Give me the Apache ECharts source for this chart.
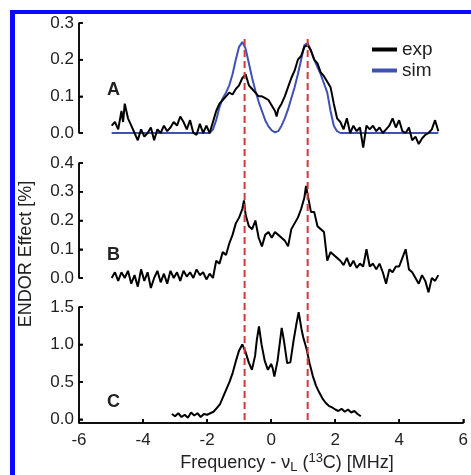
<!DOCTYPE html>
<html>
<head>
<meta charset="utf-8">
<script src="https://cdn.jsdelivr.net/npm/echarts@6/dist/echarts.min.js"></script>
<style>
html, body { margin: 0; padding: 0; background: #fff; }
#chart { width: 471px; height: 475px; }
</style>
</head>
<body>
<div id="chart"></div>
<script>
// panel A: measured spectrum and simulation, [frequency MHz, effect %]
const expA = [
  [-5.0,0.02],[-4.9,0.03],[-4.8,0.01],[-4.7,0.06],[-4.65,0.03],[-4.6,0.08],[-4.5,0.04],[-4.4,0.02],
  [-4.3,0.0],[-4.2,-0.02],[-4.1,0.01],[-4.0,-0.01],[-3.9,0.0],[-3.8,0.015],[-3.7,-0.02],[-3.6,0.01],
  [-3.5,0.0],[-3.4,0.02],[-3.3,0.005],[-3.2,0.015],[-3.1,0.03],[-3.0,0.02],[-2.9,0.045],[-2.8,0.03],
  [-2.7,0.01],[-2.6,0.035],[-2.5,0.0],[-2.4,-0.005],[-2.3,0.025],[-2.2,0.0],[-2.1,0.02],[-2.0,0.0],
  [-1.9,0.03],[-1.8,0.06],[-1.7,0.08],[-1.6,0.09],[-1.5,0.1],[-1.4,0.11],[-1.3,0.105],[-1.2,0.12],
  [-1.1,0.13],[-1.0,0.15],[-0.9,0.16],[-0.8,0.13],[-0.7,0.12],[-0.6,0.11],[-0.5,0.1],[-0.4,0.1],
  [-0.3,0.095],[-0.2,0.09],[-0.1,0.075],[0.0,0.06],[0.05,0.045],[0.1,0.065],[0.2,0.08],[0.3,0.1],
  [0.4,0.125],[0.5,0.15],[0.6,0.17],[0.7,0.2],[0.8,0.21],[0.9,0.235],[1.0,0.24],[1.1,0.225],
  [1.2,0.2],[1.3,0.19],[1.4,0.165],[1.5,0.155],[1.6,0.14],[1.7,0.125],[1.8,0.08],[1.9,0.04],
  [2.0,0.03],[2.1,0.01],[2.2,0.04],[2.3,0.0],[2.4,0.02],[2.5,0.005],[2.6,0.015],[2.7,-0.04],
  [2.8,0.02],[2.9,0.01],[3.0,0.02],[3.1,0.005],[3.2,0.015],[3.3,0.0],[3.4,0.01],[3.5,0.02],
  [3.6,0.04],[3.7,0.015],[3.8,0.035],[3.9,0.005],[4.0,0.0],[4.1,0.015],[4.2,-0.02],[4.3,-0.01],
  [4.4,-0.03],[4.5,-0.015],[4.6,-0.005],[4.7,0.0],[4.8,0.01],[4.9,0.035],[5.0,0.005]
];
const simA = [
  [-5.0,0],[-2.0,0],[-1.9,0.01],[-1.8,0.035],[-1.7,0.07],[-1.6,0.095],[-1.5,0.11],[-1.4,0.13],
  [-1.3,0.16],[-1.2,0.2],[-1.1,0.235],[-1.0,0.248],[-0.9,0.23],[-0.8,0.19],[-0.7,0.15],[-0.6,0.115],
  [-0.5,0.085],[-0.4,0.06],[-0.3,0.035],[-0.2,0.018],[-0.1,0.007],[0.0,0.002],[0.1,0.005],[0.2,0.02],
  [0.3,0.04],[0.4,0.065],[0.5,0.095],[0.6,0.125],[0.7,0.16],[0.8,0.2],[0.9,0.24],[1.0,0.245],
  [1.1,0.225],[1.2,0.2],[1.3,0.18],[1.4,0.16],[1.5,0.135],[1.6,0.11],[1.7,0.06],[1.8,0.02],
  [1.9,0.005],[2.0,0],[5.0,0]
];
// panel B
const expB = [
  [-5.0,0.0],[-4.9,0.02],[-4.8,-0.01],[-4.7,0.02],[-4.6,0.0],[-4.5,0.025],[-4.4,-0.02],[-4.3,0.01],
  [-4.2,-0.03],[-4.1,0.03],[-4.0,-0.01],[-3.9,0.02],[-3.8,-0.035],[-3.7,0.0],[-3.6,0.025],[-3.5,-0.015],
  [-3.4,0.015],[-3.3,-0.02],[-3.2,0.025],[-3.1,0.0],[-3.0,0.02],[-2.9,-0.01],[-2.8,0.025],[-2.7,0.005],
  [-2.6,0.02],[-2.5,0.0],[-2.4,0.03],[-2.3,0.01],[-2.2,0.02],[-2.1,-0.005],[-2.0,0.015],[-1.9,0.0],
  [-1.8,0.06],[-1.7,0.05],[-1.6,0.09],[-1.5,0.08],[-1.4,0.12],[-1.3,0.15],[-1.2,0.19],[-1.1,0.21],
  [-1.0,0.24],[-0.95,0.27],[-0.9,0.22],[-0.8,0.18],[-0.7,0.17],[-0.6,0.2],[-0.5,0.14],[-0.4,0.11],
  [-0.3,0.15],[-0.2,0.16],[-0.1,0.14],[0.0,0.16],[0.1,0.15],[0.2,0.14],[0.3,0.13],[0.4,0.11],
  [0.5,0.17],[0.6,0.19],[0.7,0.21],[0.8,0.24],[0.9,0.28],[0.95,0.32],[1.0,0.29],[1.1,0.23],
  [1.2,0.23],[1.3,0.18],[1.4,0.17],[1.5,0.16],[1.6,0.06],[1.7,0.09],[1.8,0.08],[1.9,0.07],
  [2.0,0.06],[2.1,0.045],[2.2,0.07],[2.3,0.04],[2.4,0.06],[2.5,0.035],[2.6,0.05],[2.7,0.04],
  [2.8,0.1],[2.9,0.04],[3.0,0.05],[3.1,0.03],[3.2,0.05],[3.3,0.02],[3.4,-0.02],[3.5,0.03],
  [3.6,0.02],[3.7,0.04],[3.8,0.04],[3.9,0.07],[4.0,0.1],[4.1,0.03],[4.2,0.02],[4.3,0.0],
  [4.4,-0.02],[4.5,0.01],[4.6,-0.01],[4.7,-0.05],[4.8,0.0],[4.9,-0.01],[5.0,0.01]
];
// panel C
const expC = [
  [-3.1,0.07],[-3.0,0.04],[-2.9,0.08],[-2.8,0.03],[-2.7,0.06],[-2.6,0.02],[-2.5,0.09],[-2.4,0.05],
  [-2.3,0.08],[-2.2,0.03],[-2.1,0.07],[-2.0,0.06],[-1.9,0.08],[-1.8,0.1],[-1.7,0.15],[-1.6,0.2],
  [-1.5,0.3],[-1.4,0.4],[-1.3,0.5],[-1.2,0.62],[-1.1,0.78],[-1.0,0.92],[-0.9,1.0],[-0.8,0.9],
  [-0.7,0.76],[-0.6,0.66],[-0.5,0.85],[-0.45,1.05],[-0.38,1.24],[-0.3,1.0],[-0.2,0.78],[-0.1,0.66],
  [0.0,0.74],[0.05,0.68],[0.1,0.57],[0.2,0.78],[0.28,1.05],[0.33,1.22],[0.4,1.05],[0.5,0.75],
  [0.6,0.76],[0.7,1.05],[0.8,1.3],[0.86,1.43],[0.95,1.2],[1.0,1.1],[1.1,0.95],[1.2,0.75],
  [1.3,0.58],[1.4,0.45],[1.5,0.36],[1.6,0.28],[1.7,0.22],[1.8,0.18],[1.9,0.16],[2.0,0.13],
  [2.1,0.11],[2.2,0.14],[2.3,0.1],[2.4,0.13],[2.5,0.09],[2.6,0.11],[2.7,0.07],[2.8,0.04]
];
const markerFreqs = [-0.93, 1.0];
const panelLabels = ['A', 'B', 'C'];
const xRange = [-6, 6];
const xTicks = [-6, -4, -2, 0, 2, 4, 6];
const yTicksA = [0, 0.1, 0.2, 0.3];
const yTicksB = [0, 0.1, 0.2, 0.3, 0.4];
const yTicksC = [0, 0.5, 1.0, 1.5];

const FONT = 'Liberation Sans, Arial, sans-serif';
const chart = echarts.init(document.getElementById('chart'));

const grids = [
  { left: 79, top: 23, width: 395, height: 110 },
  { left: 79, top: 163, width: 395, height: 115 },
  { left: 79, top: 307, width: 395, height: 116 },
  { left: 79, top: 35, width: 395, height: 385 }  // dashed marker lines
];

const mkLabel = () => ({ color: '#222', fontSize: 17, fontFamily: FONT, margin: 5, formatter: v => v.toFixed(1) });
const mkLine = () => ({ show: true, onZero: false, lineStyle: { color: '#000', width: 1.5 } });
const mkTick = () => ({ show: true, inside: true, length: 4, lineStyle: { color: '#000', width: 1.5 } });

const xAxes = grids.map((g, i) => ({
  type: 'value', gridIndex: i, min: xRange[0], max: xRange[1], interval: 2, position: 'bottom',
  show: i === 2,
  axisLine: mkLine(), axisTick: mkTick(),
  axisLabel: { color: '#222', fontSize: 17, fontFamily: FONT, margin: 9 },
  splitLine: { show: false }
}));

const yAxes = [
  { type: 'value', gridIndex: 0, min: 0, max: 0.3, interval: 0.1, position: 'left',
    axisLine: mkLine(), axisTick: mkTick(), axisLabel: mkLabel(), splitLine: { show: false } },
  { type: 'value', gridIndex: 1, min: 0, max: 0.4, interval: 0.1, position: 'left',
    axisLine: mkLine(), axisTick: mkTick(), axisLabel: mkLabel(), splitLine: { show: false } },
  { type: 'value', gridIndex: 2, min: -0.05, max: 1.5, position: 'left',
    axisLine: mkLine(),
    axisTick: Object.assign(mkTick(), { customValues: yTicksC }),
    axisLabel: Object.assign(mkLabel(), { customValues: yTicksC }),
    splitLine: { show: false } },
  { type: 'value', gridIndex: 3, min: 0, max: 1, show: false }
];

const lineSeries = (name, data, idx, color) => ({
  name: name, type: 'line', data: data, xAxisIndex: idx, yAxisIndex: idx,
  showSymbol: false, symbol: 'none', clip: false, silent: true,
  lineStyle: { color: color, width: 2 }, itemStyle: { color: color }
});

const series = [
  lineSeries('sim', simA, 0, '#3f51b5'),
  lineSeries('exp', expA, 0, '#000'),
  lineSeries('expB', expB, 1, '#000'),
  lineSeries('expC', expC, 2, '#000')
];
markerFreqs.forEach(f => {
  series.push({
    type: 'line', xAxisIndex: 3, yAxisIndex: 3, data: [[f, 0], [f, 1]],
    symbol: 'none', silent: true, z: 5,
    lineStyle: { color: '#d03a3a', width: 2, type: [7, 4] }
  });
});

// backup axis frame drawn as plain line series (the built-in axis line drops out at the grid edge)
const frameSeg = (idx, a, b) => ({
  type: 'line', xAxisIndex: idx, yAxisIndex: idx, data: [a, b],
  symbol: 'none', showSymbol: false, silent: true, clip: false, z: 4,
  lineStyle: { color: '#000', width: 1.5 }
});
const frames = [
  { grid: 0, yMin: 0, yMax: 0.3, yTicks: yTicksA, bottom: false },
  { grid: 1, yMin: 0, yMax: 0.4, yTicks: yTicksB, bottom: false },
  { grid: 2, yMin: -0.05, yMax: 1.5, yTicks: yTicksC, bottom: true }
];
const TICK_PX = 4;
frames.forEach(f => {
  const g = grids[f.grid];
  const dx = TICK_PX * (xRange[1] - xRange[0]) / g.width;
  const dy = TICK_PX * (f.yMax - f.yMin) / g.height;
  series.push(frameSeg(f.grid, [xRange[0], f.yMin], [xRange[0], f.yMax]));
  f.yTicks.forEach(t => series.push(frameSeg(f.grid, [xRange[0], t], [xRange[0] + dx, t])));
  if (f.bottom) {
    series.push(frameSeg(f.grid, [xRange[0], f.yMin], [xRange[1], f.yMin]));
    xTicks.forEach(t => series.push(frameSeg(f.grid, [t, f.yMin], [t, f.yMin + dy])));
  }
});

const panelY = [90, 255, 402];
const graphics = panelLabels.map((t, i) => ({
  type: 'text', left: 107, top: panelY[i] - 9,
  style: { text: t, fontSize: 18, fontWeight: 'bold', fontFamily: FONT, fill: '#222' }
}));
graphics.push(
  { type: 'rect', shape: { x: 10, y: 10, width: 5, height: 465 }, style: { fill: '#0a0aff' } },
  { type: 'rect', shape: { x: 10, y: 10, width: 461, height: 4 }, style: { fill: '#0a0aff' } },
  { type: 'text', x: 26, y: 254, rotation: Math.PI / 2,
    style: { text: 'ENDOR Effect [%]', fontSize: 18, fontFamily: FONT, fill: '#222',
             align: 'center', verticalAlign: 'middle' } },
  { type: 'text', x: 287, y: 463,
    style: {
      text: '{n|Frequency - ν}{sub|L}{n| (}{sup|13}{n|C) [MHz]}',
      align: 'center', verticalAlign: 'middle', fill: '#222',
      rich: {
        n: { fontSize: 18, fontFamily: FONT, lineHeight: 22, fill: '#222' },
        sub: { fontSize: 13, fontFamily: FONT, lineHeight: 13, verticalAlign: 'bottom', fill: '#222' },
        sup: { fontSize: 13, fontFamily: FONT, lineHeight: 13, verticalAlign: 'top', fill: '#222' }
      }
    } }
);

chart.setOption({
  animation: false,
  backgroundColor: '#fff',
  grid: grids,
  xAxis: xAxes,
  yAxis: yAxes,
  legend: {
    data: ['exp', 'sim'], orient: 'vertical', left: 372, top: 40, padding: 0,
    itemWidth: 25, itemHeight: 4, itemGap: 2, icon: 'rect',
    textStyle: { fontSize: 19, fontFamily: FONT, color: '#222', lineHeight: 19 }
  },
  series: series,
  graphic: graphics
});
</script>
</body>
</html>
